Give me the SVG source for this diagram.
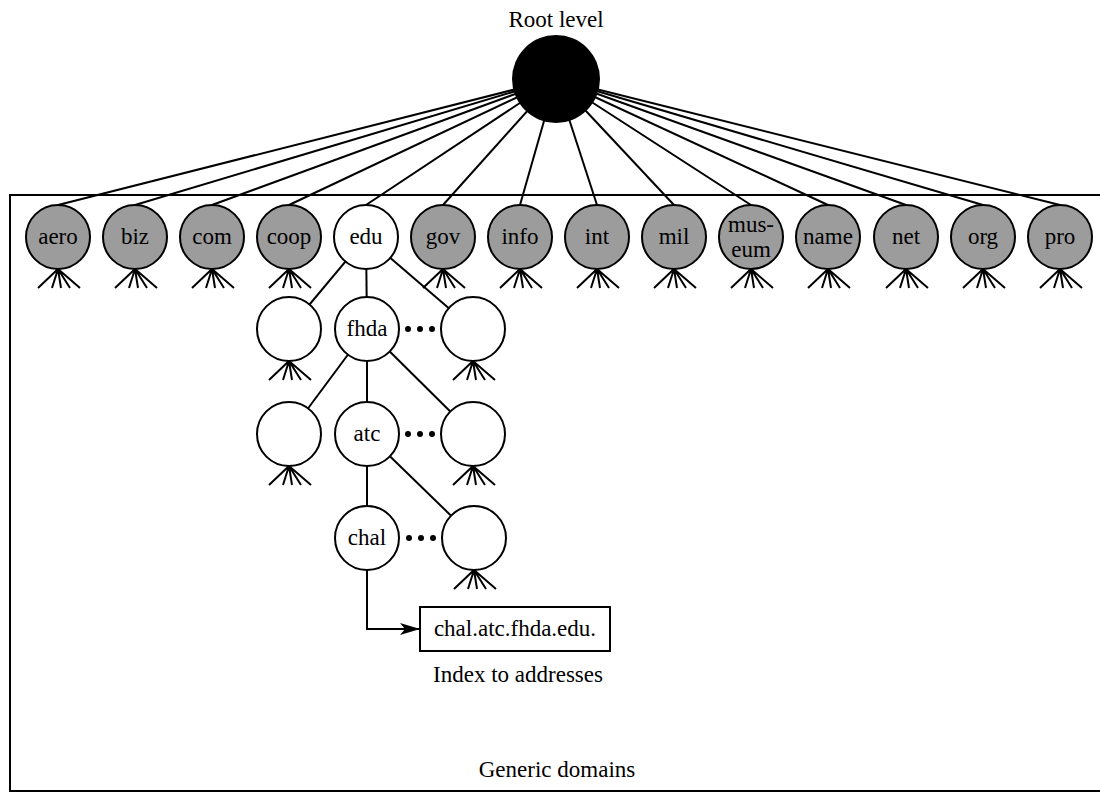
<svg xmlns="http://www.w3.org/2000/svg" xmlns:xlink="http://www.w3.org/1999/xlink" width="1100" height="794" viewBox="0 0 1100 794">
<style>
.t{font-family:"Liberation Serif","Times New Roman",serif;font-size:23px;fill:#000;text-anchor:middle}
.lb{font-family:"Liberation Serif","Times New Roman",serif;font-size:23px;fill:#000;text-anchor:middle}
.g{fill:#9c9c9c;stroke:#000;stroke-width:2}
.w{fill:#fff;stroke:#000;stroke-width:2}
.ln{stroke:#000;stroke-width:2;fill:none}
.ft{stroke:#000;stroke-width:2;fill:none}
.dot{fill:#000}
</style>
<defs>
<path id="foot" class="ft" d="M0,0 L-20,19 M0,0 L-6,19 M0,0 L3,19 M0,0 L12,19 M0,0 L22,19"/>
<marker id="arr" viewBox="0 0 20 12" refX="20" refY="6" markerWidth="20" markerHeight="12" markerUnits="userSpaceOnUse" orient="auto">
<path d="M0,0 L20,6 L0,12 L5,6 Z" fill="#000"/>
</marker>
</defs>
<rect width="1100" height="794" fill="#fff"/>
<path id="frame" d="M1100,195 H10 V791 H1100" fill="none" stroke="#000" stroke-width="2"/>
<g id="connectors" class="ln">
<line x1="58" y1="205" x2="556" y2="79"/>
<line x1="135" y1="205" x2="556" y2="79"/>
<line x1="212" y1="205" x2="556" y2="79"/>
<line x1="289" y1="205" x2="556" y2="79"/>
<line x1="366" y1="205" x2="556" y2="79"/>
<line x1="443" y1="205" x2="556" y2="79"/>
<line x1="520" y1="205" x2="556" y2="79"/>
<line x1="597" y1="205" x2="556" y2="79"/>
<line x1="674" y1="205" x2="556" y2="79"/>
<line x1="751" y1="205" x2="556" y2="79"/>
<line x1="828" y1="205" x2="556" y2="79"/>
<line x1="906" y1="205" x2="556" y2="79"/>
<line x1="983" y1="205" x2="556" y2="79"/>
<line x1="1060" y1="205" x2="556" y2="79"/>
<line x1="366" y1="237" x2="289" y2="329"/>
<line x1="366" y1="237" x2="367" y2="329"/>
<line x1="366" y1="237" x2="473" y2="329"/>
<line x1="367" y1="329" x2="289" y2="434"/>
<line x1="367" y1="329" x2="367" y2="434"/>
<line x1="367" y1="329" x2="473" y2="434"/>
<line x1="367" y1="434" x2="367" y2="538"/>
<line x1="367" y1="434" x2="474" y2="538"/>
<path d="M367,570 V629 H420" marker-end="url(#arr)"/>
</g>
<g id="root">
<circle cx="556" cy="79" r="44" fill="#000"/>
<text class="lb" x="556" y="27">Root level</text>
</g>
<g id="aero"><circle class="g" cx="58" cy="237" r="32"/><text class="t" x="58" y="244">aero</text><use xlink:href="#foot" x="58" y="269"/></g>
<g id="biz"><circle class="g" cx="135" cy="237" r="32"/><text class="t" x="135" y="244">biz</text><use xlink:href="#foot" x="135" y="269"/></g>
<g id="com"><circle class="g" cx="212" cy="237" r="32"/><text class="t" x="212" y="244">com</text><use xlink:href="#foot" x="212" y="269"/></g>
<g id="coop"><circle class="g" cx="289" cy="237" r="32"/><text class="t" x="289" y="244">coop</text><use xlink:href="#foot" x="289" y="269"/></g>
<g id="edu"><circle class="w" cx="366" cy="237" r="32"/><text class="t" x="366" y="244">edu</text></g>
<g id="gov"><circle class="g" cx="443" cy="237" r="32"/><text class="t" x="443" y="244">gov</text><use xlink:href="#foot" x="443" y="269"/></g>
<g id="info"><circle class="g" cx="520" cy="237" r="32"/><text class="t" x="520" y="244">info</text><use xlink:href="#foot" x="520" y="269"/></g>
<g id="int"><circle class="g" cx="597" cy="237" r="32"/><text class="t" x="597" y="244">int</text><use xlink:href="#foot" x="597" y="269"/></g>
<g id="mil"><circle class="g" cx="674" cy="237" r="32"/><text class="t" x="674" y="244">mil</text><use xlink:href="#foot" x="674" y="269"/></g>
<g id="museum"><circle class="g" cx="751" cy="237" r="32"/><text class="t" x="751" y="232">mus-</text><text class="t" x="751" y="257">eum</text><use xlink:href="#foot" x="751" y="269"/></g>
<g id="name"><circle class="g" cx="828" cy="237" r="32"/><text class="t" x="828" y="244">name</text><use xlink:href="#foot" x="828" y="269"/></g>
<g id="net"><circle class="g" cx="906" cy="237" r="32"/><text class="t" x="906" y="244">net</text><use xlink:href="#foot" x="906" y="269"/></g>
<g id="org"><circle class="g" cx="983" cy="237" r="32"/><text class="t" x="983" y="244">org</text><use xlink:href="#foot" x="983" y="269"/></g>
<g id="pro"><circle class="g" cx="1060" cy="237" r="32"/><text class="t" x="1060" y="244">pro</text><use xlink:href="#foot" x="1060" y="269"/></g>
<g id="edu-left"><circle class="w" cx="289" cy="329" r="32"/><use xlink:href="#foot" x="289" y="361"/></g>
<g id="fhda"><circle class="w" cx="367" cy="329" r="32"/><text class="t" x="367" y="336">fhda</text></g>
<g id="edu-dots"><circle class="dot" cx="408" cy="329" r="3"/><circle class="dot" cx="420" cy="329" r="3"/><circle class="dot" cx="432" cy="329" r="3"/></g>
<g id="edu-right"><circle class="w" cx="473" cy="329" r="32"/><use xlink:href="#foot" x="473" y="361"/></g>
<g id="fhda-left"><circle class="w" cx="289" cy="434" r="32"/><use xlink:href="#foot" x="289" y="466"/></g>
<g id="atc"><circle class="w" cx="367" cy="434" r="32"/><text class="t" x="367" y="441">atc</text></g>
<g id="fhda-dots"><circle class="dot" cx="408" cy="434" r="3"/><circle class="dot" cx="420" cy="434" r="3"/><circle class="dot" cx="432" cy="434" r="3"/></g>
<g id="fhda-right"><circle class="w" cx="473" cy="434" r="32"/><use xlink:href="#foot" x="473" y="466"/></g>
<g id="chal"><circle class="w" cx="367" cy="538" r="32"/><text class="t" x="367" y="545">chal</text></g>
<g id="atc-dots"><circle class="dot" cx="409" cy="538" r="3"/><circle class="dot" cx="421" cy="538" r="3"/><circle class="dot" cx="433" cy="538" r="3"/></g>
<g id="atc-right"><circle class="w" cx="474" cy="538" r="32"/><use xlink:href="#foot" x="474" y="570"/></g>
<g id="address">
<rect x="420" y="607" width="190" height="44" fill="#fff" stroke="#000" stroke-width="2"/>
<text class="lb" x="515" y="636">chal.atc.fhda.edu.</text>
<text class="lb" x="518" y="682">Index to addresses</text>
</g>
<text class="lb" x="557" y="777">Generic domains</text>
</svg>
